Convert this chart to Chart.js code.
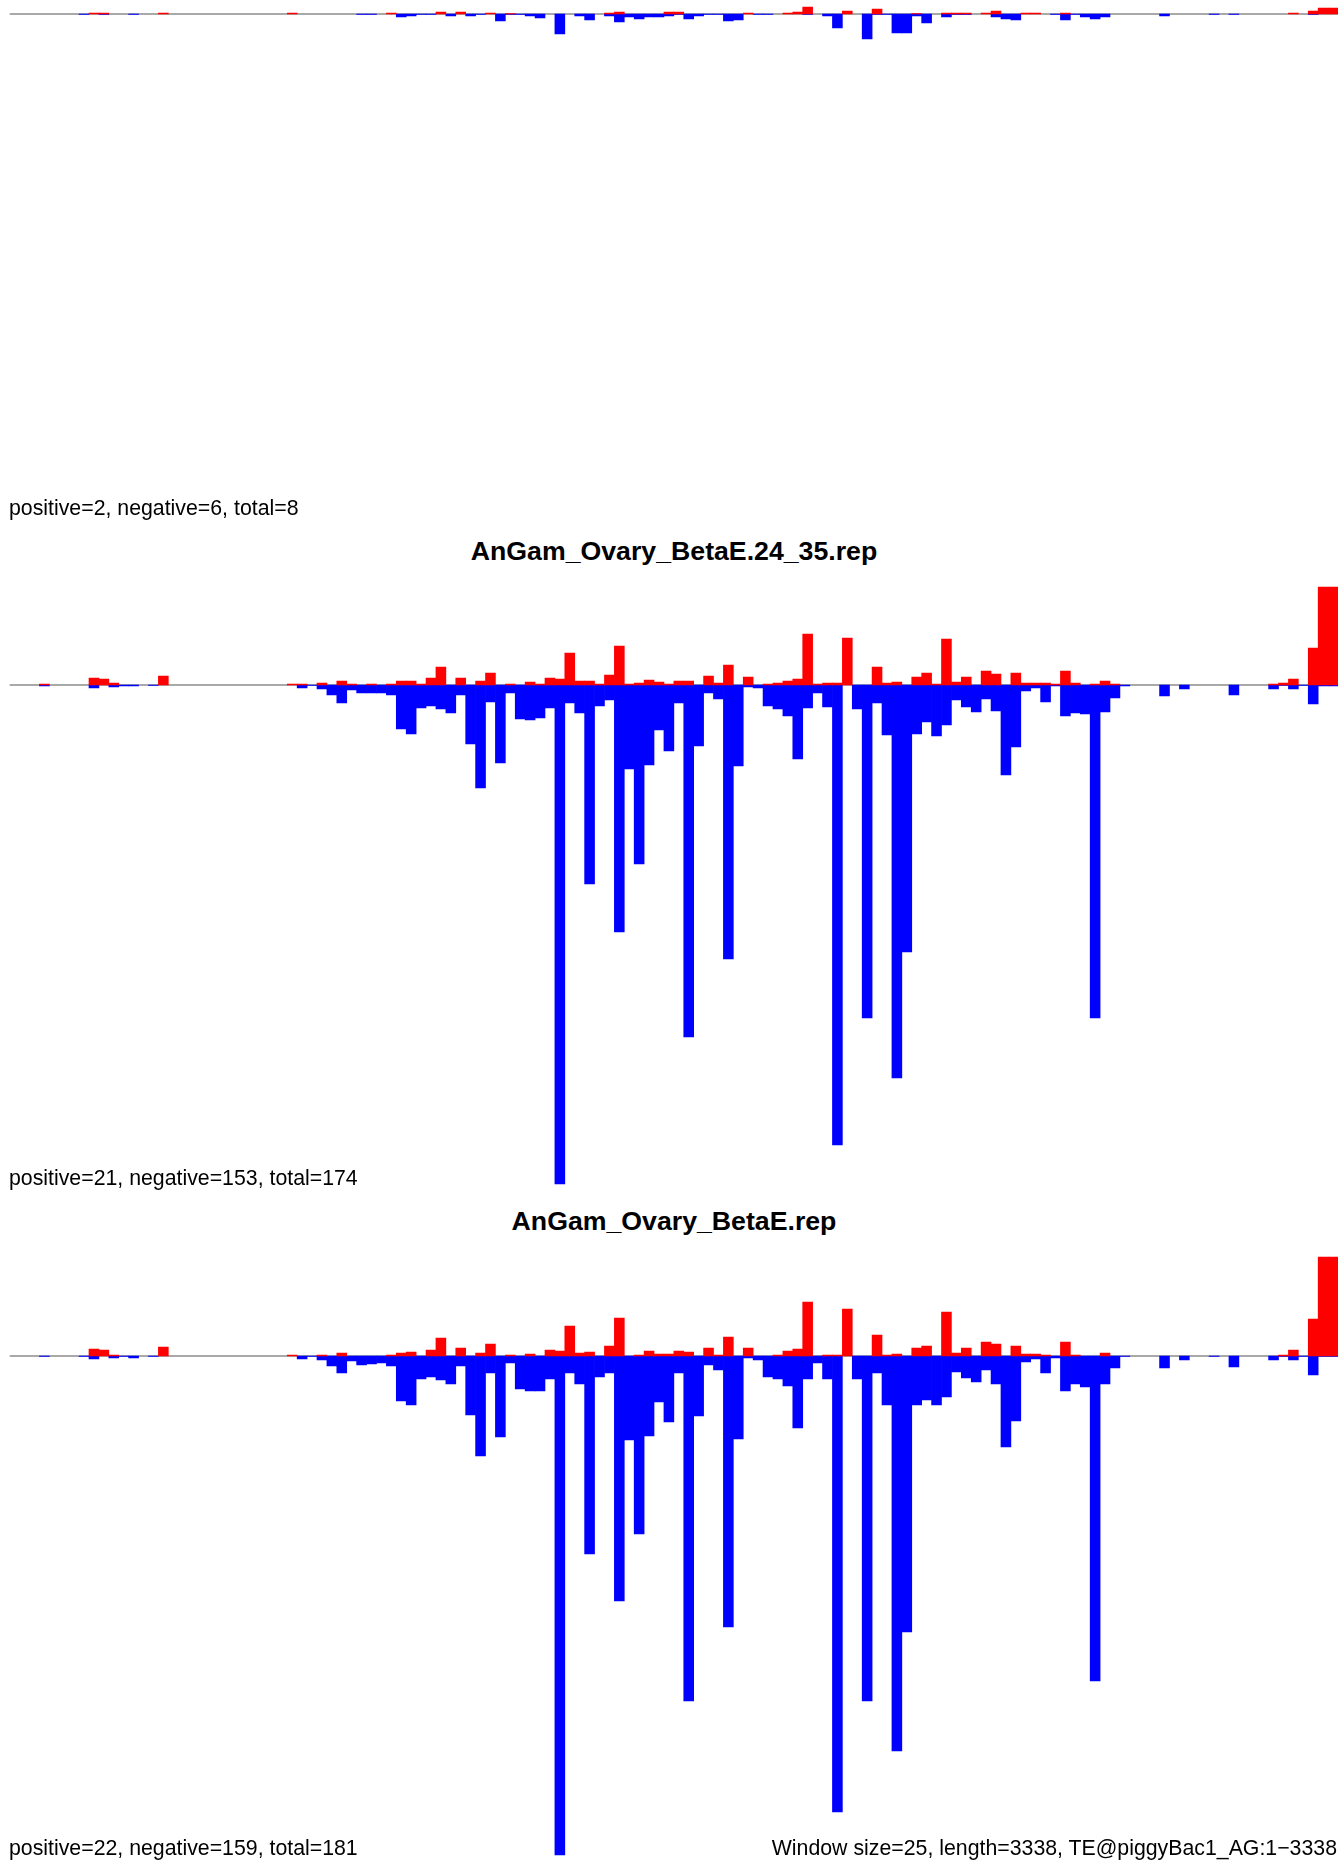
<!DOCTYPE html>
<html lang="en">
<head>
    <meta charset="UTF-8">
    <title>AnGam_Ovary_BetaE - TE@piggyBac1_AG</title>
    <script src="https://cdn.jsdelivr.net/npm/chart.js"></script>
    <style>
        html, body { margin: 0; padding: 0; background: #fff; }
        body { width: 1342px; height: 1861px; position: relative; overflow: hidden;
               font-family: "Liberation Sans", Arial, Helvetica, sans-serif; color: #000; }
        canvas { position: absolute; left: 0; }
        .lbl { position: absolute; font-size: 21.3px; line-height: 21px; white-space: nowrap; }
        .ttl { position: absolute; left: 0; width: 1348px; text-align: center; font-weight: bold;
               font-size: 26.7px; line-height: 26px; white-space: nowrap; }
    </style>
</head>
<body>
    <canvas id="panel1" width="1342" height="600" style="top:-86px"></canvas>
    <canvas id="panel2" width="1342" height="600" style="top:585px"></canvas>
    <canvas id="panel3" width="1342" height="600" style="top:1256px"></canvas>

    <div class="lbl" style="left:9px; top:498px">positive=2, negative=6, total=8</div>
    <div class="ttl" style="top:538px">AnGam_Ovary_BetaE.24_35.rep</div>
    <div class="lbl" style="left:9px; top:1168px">positive=21, negative=153, total=174</div>
    <div class="ttl" style="top:1208px">AnGam_Ovary_BetaE.rep</div>
    <div class="lbl" style="left:9px; top:1838px">positive=22, negative=159, total=181</div>
    <div class="lbl" style="right:5px; top:1838px">Window size=25, length=3338, TE@piggyBac1_AG:1−3338</div>

    <script>
        // 134 windows of 25 nt over the 3338 nt element
        const windows = Array.from({ length: 134 }, (_, i) => i * 25 + 1);

        // top panel (partly off the page)
        const pos1 = [0,0,0,0,0,0,0,0,1,1, 0,0,0,0,0,1,0,0,0,0, 0,0,0,0,0,0,0,0,1,0,
                      0,0,0,0,0,0,0,0,1,0, 0,0,0,2,0,2,0,0,1,0, 0.5,0,0,0,0,0,0,0,0,0,
                      1,2,0,0,0,0,2,2,0,0, 0,0,0,0,1,0,0,0,1,2, 7,0,0,0,3,0,0,5,0,0,
                      0,0.5,0,0,1,1,1,0,1,3, 0,0,1,1,0,0,1,0,0,0, 0,0,0,0,0,0,0,0,0,0,
                      0,0,0,0,0,0,0,0,0,1, 0,3,6,6];
        const neg1 = [0,0,0,0,0,0,0,-0.5,0,-0.5, 0,0,-0.5,0,0,0,0,0,0,0, 0,0,0,0,0,0,0,0,0,0,
                      0,0,0,0,0,-0.5,-0.5,0,0,-3, -2,-0.5,-0.5,0,-2,0,-2,-0.5,0,-7, -0.5,-0.5,-2,-4,0,-20,0,-2,-6,0,
                      -2,-8,-3,-5,-3,-3,-2,-0.5,-5,-2, -0.5,-0.5,-7,-6,0,-0.5,-0.5,0,0,0, -0.5,0,-2,-14,0,0,-25,-0.5,-0.5,-19,
                      -19,-2,-9,0,-3,-0.5,-0.5,0,0,-3, -5,-6,0,0,0,-0.5,-6,-0.5,-3,-5, -3,0,0,0,0,0,-2,0,0,0,
                      0,-0.5,0,-0.5,0,0,0,0,0,0, 0,-0.5,0,0];

        // AnGam_Ovary_BetaE.24_35.rep
        const pos2 = [0,0,0,1,0,0,0,0,7,6, 2,0,0,0,0,9,0,0,0,0, 0,0,0,0,0,0,0,0,1,1,
                      0,2,0,4,1,0,1,0,1,4, 4,1,7,18,0,7,0,4,12,0, 1,0,3,1,7,6,32,4,4,1,
                      10,39,1,2,5,3,1,4,4,0, 9,2,20,0,8,0,1,2,4,6, 51,1,2,2,47,0,0,18,2,3,
                      0,8,12,1,46,3,8,0,14,11, 0,12,2,2,2,1,14,2,0,1, 4,1,0,0,0,0,0,0,0,0,
                      0,0,0,0,0,0,0,1,2,6, 0,37,98,98];
        const neg2 = [0,0,0,-1,0,0,0,0,-3,0, -2,-1,-1,0,-0.5,0,0,0,0,0, 0,0,0,0,0,0,0,0,0,-3,
                      -0.5,-4,-10,-18,-5,-8,-8,-8,-10,-44, -49,-23,-21,-24,-28,-10,-59,-103,-17,-78,
                      -8,-34,-35,-33,-23,-499,-18,-28,-199,-21, -15,-247,-84,-179,-80,-45,-66,-18,-352,-61,
                      -8,-14,-274,-81,-2,-3,-21,-24,-31,-74, -23,-8,-22,-460,0,-24,-333,-18,-50,-393,
                      -267,-49,-37,-51,-40,-15,-22,-27,-14,-26, -90,-62,-6,-3,-17,-1,-31,-28,-29,-333,
                      -27,-13,-1,0,0,0,-11,0,-4,0, 0,0,0,-10,0,0,0,-4,-0.5,-4, -0.5,-19,-1,-1];

        // AnGam_Ovary_BetaE.rep
        const pos3 = [0,0,0,0,0,0,0,0,7,6, 1,0,0,0,0,9,0,0,0,0, 0,0,0,0,0,0,0,0,1,0,
                      0,1,0,3,0,0,0,0,1,3, 4,0,6,18,0,8,0,3,12,0, 1,0,2,0,6,5,30,3,4,0,
                      10,38,0,1,5,2,2,5,4,0, 8,1,19,0,8,0,0,1,5,7, 54,0,1,1,47,0,0,21,1,2,
                      0,8,10,0,44,3,8,0,14,12, 0,10,2,2,1,0,14,1,0,0, 3,0,0,0,0,0,0,0,0,0,
                      0,0,0,0,0,0,0,0,1,6, 0,37,99,99];
        const neg3 = [0,0,0,-0.5,0,0,0,-0.5,-3,0, -2,-0.5,-2,0,-0.5,0,0,0,0,0, 0,0,0,0,0,0,0,0,0,-3,
                      -0.5,-4,-10,-17,-5,-9,-8,-7,-10,-45, -49,-23,-21,-24,-28,-10,-59,-100,-17,-81,
                      -7,-33,-35,-35,-23,-499,-17,-28,-198,-21, -17,-245,-84,-178,-80,-46,-66,-17,-345,-60,
                      -9,-14,-271,-83,-2,-4,-21,-23,-30,-72, -23,-7,-23,-456,0,-23,-345,-17,-49,-395,
                      -276,-49,-44,-49,-41,-16,-22,-26,-14,-28, -91,-65,-6,-3,-17,-2,-35,-28,-31,-325,
                      -28,-12,-0.5,0,0,0,-12,0,-4,0, 0,-0.5,0,-11,0,0,0,-4,-0.5,-4, -0.5,-19,-0.5,-0.5];

        const yMin = -500, yMax = 100;

        // grey zero line under the bars
        const zeroLine = {
            id: 'zeroLine',
            beforeDatasetsDraw(chart) {
                const { ctx, chartArea, scales } = chart;
                const y = scales.y.getPixelForValue(0);
                ctx.save();
                ctx.strokeStyle = '#8c8c8c';
                ctx.lineWidth = 1.5;
                ctx.beginPath();
                ctx.moveTo(chartArea.left, y);
                ctx.lineTo(chartArea.right, y);
                ctx.stroke();
                ctx.restore();
            }
        };

        // empty windows get no bar at all (otherwise a hairline is drawn)
        const skipZero = arr => arr.map(v => (v === 0 ? null : v));

        function drawPanel(id, pos, neg) {
            new Chart(document.getElementById(id), {
                type: 'bar',
                data: {
                    labels: windows,
                    datasets: [
                        { label: 'positive', data: skipZero(pos), backgroundColor: '#ff0000' },
                        { label: 'negative', data: skipZero(neg), backgroundColor: '#0000ff' }
                    ]
                },
                options: {
                    responsive: false,
                    animation: false,
                    devicePixelRatio: 1,
                    layout: { padding: { left: 9.7, right: 4, top: 0, bottom: 0 } },
                    datasets: { bar: { barPercentage: 1, categoryPercentage: 1, borderWidth: 0 } },
                    plugins: { legend: { display: false }, tooltip: { enabled: false }, title: { display: false } },
                    scales: {
                        x: { display: false, stacked: true },
                        y: { display: false, stacked: true, min: yMin, max: yMax }
                    }
                },
                plugins: [zeroLine]
            });
        }

        drawPanel('panel1', pos1, neg1);
        drawPanel('panel2', pos2, neg2);
        drawPanel('panel3', pos3, neg3);
    </script>
</body>
</html>
